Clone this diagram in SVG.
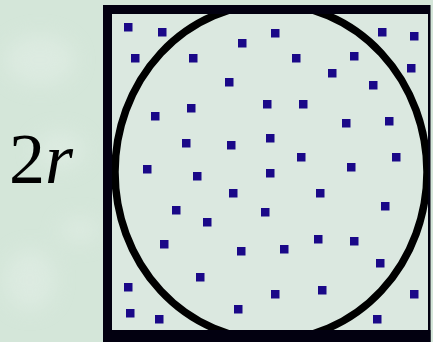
<svg xmlns="http://www.w3.org/2000/svg" width="433" height="342" viewBox="0 0 433 342">
<style>
.dot{fill:#1a0888}
.bd{fill:#020010}
.lbl{font-family:"Liberation Serif","Times New Roman",serif;font-size:72px;fill:#000}
</style>
<defs>
<clipPath id="sq"><rect x="103" y="5" width="327" height="337"/></clipPath>
<filter id="blur" x="-50%" y="-50%" width="200%" height="200%"><feGaussianBlur stdDeviation="10"/></filter>
</defs>
<g id="background">
<rect width="433" height="342" fill="#d4e6d9"/>
<g filter="url(#blur)" fill="#e2eee6" opacity="0.6">
<ellipse cx="40" cy="60" rx="35" ry="25"/>
<ellipse cx="60" cy="150" rx="25" ry="18"/>
<ellipse cx="30" cy="280" rx="25" ry="30"/>
<ellipse cx="80" cy="230" rx="20" ry="12"/>
</g>
</g>
<g id="square">
<rect x="103" y="5" width="327" height="337" fill="#dbe8e0"/>
</g>
<g id="circle" clip-path="url(#sq)">
<ellipse cx="271" cy="172" rx="156" ry="168" fill="none" stroke="#000" stroke-width="7.5"/>
</g>
<g id="square-border">
<rect class="bd" x="103" y="5" width="9" height="337"/>
<rect class="bd" x="103" y="5" width="327" height="9"/>
<rect class="bd" x="428" y="5" width="2.5" height="337"/>
<rect class="bd" x="103" y="330" width="327.5" height="12"/>
</g>
<g id="points">
<rect class="dot" x="124" y="23" width="8.5" height="8.5"/>
<rect class="dot" x="158" y="28" width="8.5" height="8.5"/>
<rect class="dot" x="131" y="54" width="8.5" height="8.5"/>
<rect class="dot" x="189" y="54" width="8.5" height="8.5"/>
<rect class="dot" x="238" y="39" width="8.5" height="8.5"/>
<rect class="dot" x="225" y="78" width="8.5" height="8.5"/>
<rect class="dot" x="187" y="104" width="8.5" height="8.5"/>
<rect class="dot" x="151" y="112" width="8.5" height="8.5"/>
<rect class="dot" x="263" y="100" width="8.5" height="8.5"/>
<rect class="dot" x="271" y="29" width="8.5" height="8.5"/>
<rect class="dot" x="378" y="28" width="8.5" height="8.5"/>
<rect class="dot" x="410" y="32" width="8.5" height="8.5"/>
<rect class="dot" x="292" y="54" width="8.5" height="8.5"/>
<rect class="dot" x="350" y="52" width="8.5" height="8.5"/>
<rect class="dot" x="407" y="64" width="8.5" height="8.5"/>
<rect class="dot" x="328" y="69" width="8.5" height="8.5"/>
<rect class="dot" x="369" y="81" width="8.5" height="8.5"/>
<rect class="dot" x="299" y="100" width="8.5" height="8.5"/>
<rect class="dot" x="342" y="119" width="8.5" height="8.5"/>
<rect class="dot" x="385" y="117" width="8.5" height="8.5"/>
<rect class="dot" x="182" y="139" width="8.5" height="8.5"/>
<rect class="dot" x="227" y="141" width="8.5" height="8.5"/>
<rect class="dot" x="266" y="134" width="8.5" height="8.5"/>
<rect class="dot" x="143" y="165" width="8.5" height="8.5"/>
<rect class="dot" x="193" y="172" width="8.5" height="8.5"/>
<rect class="dot" x="229" y="189" width="8.5" height="8.5"/>
<rect class="dot" x="266" y="169" width="8.5" height="8.5"/>
<rect class="dot" x="172" y="206" width="8.5" height="8.5"/>
<rect class="dot" x="203" y="218" width="8.5" height="8.5"/>
<rect class="dot" x="261" y="208" width="8.5" height="8.5"/>
<rect class="dot" x="297" y="153" width="8.5" height="8.5"/>
<rect class="dot" x="392" y="153" width="8.5" height="8.5"/>
<rect class="dot" x="347" y="163" width="8.5" height="8.5"/>
<rect class="dot" x="316" y="189" width="8.5" height="8.5"/>
<rect class="dot" x="381" y="202" width="8.5" height="8.5"/>
<rect class="dot" x="160" y="240" width="8.5" height="8.5"/>
<rect class="dot" x="237" y="247" width="8.5" height="8.5"/>
<rect class="dot" x="196" y="273" width="8.5" height="8.5"/>
<rect class="dot" x="124" y="283" width="8.5" height="8.5"/>
<rect class="dot" x="126" y="309" width="8.5" height="8.5"/>
<rect class="dot" x="155" y="315" width="8.5" height="8.5"/>
<rect class="dot" x="234" y="305" width="8.5" height="8.5"/>
<rect class="dot" x="314" y="235" width="8.5" height="8.5"/>
<rect class="dot" x="350" y="237" width="8.5" height="8.5"/>
<rect class="dot" x="280" y="245" width="8.5" height="8.5"/>
<rect class="dot" x="376" y="259" width="8.5" height="8.5"/>
<rect class="dot" x="271" y="290" width="8.5" height="8.5"/>
<rect class="dot" x="318" y="286" width="8.5" height="8.5"/>
<rect class="dot" x="410" y="290" width="8.5" height="8.5"/>
<rect class="dot" x="373" y="315" width="8.5" height="8.5"/>
</g>
<g id="label">
<text class="lbl" x="9" y="183">2<tspan font-style="italic">r</tspan></text>
</g>
</svg>
